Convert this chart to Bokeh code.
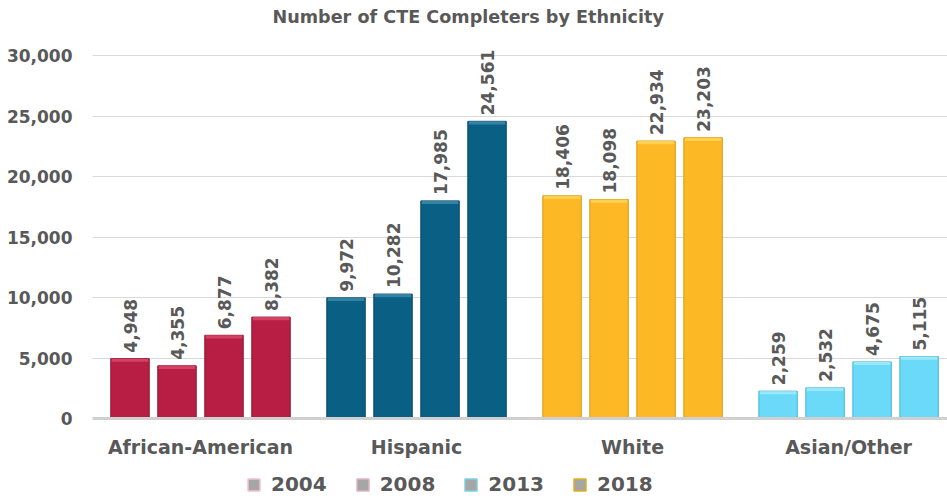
import math
from bokeh.plotting import figure
from bokeh.layouts import column
from bokeh.models import (ColumnDataSource, FixedTicker, NumeralTickFormatter,
                          Legend, LegendItem, Range1d)
from bokeh.core.properties import value
from bokeh.embed import file_html
from bokeh.resources import INLINE

title_text = "Number of CTE Completers by Ethnicity"
categories = ["African-American", "Hispanic", "White", "Asian/Other"]
years = ["2004", "2008", "2013", "2018"]
african_american = [4948, 4355, 6877, 8382]
hispanic = [9972, 10282, 17985, 24561]
white = [18406, 18098, 22934, 23203]
asian_other = [2259, 2532, 4675, 5115]
y_ticks = [0, 5000, 10000, 15000, 20000, 25000, 30000]

series = [african_american, hispanic, white, asian_other]
group_colors = ["#B81E44", "#0A5F85", "#FDB825", "#6BDAF8"]
highlight = ["#D8486A", "#3C88AC", "#FFD55C", "#A4EAFC"]
edge = ["#8E1732", "#084864", "#D99A10", "#45B6D6"]
legend_edges = ["#F2C4CF", "#E0B5C0", "#7CCFE0", "#E0B020"]

FONT = "DejaVu Sans"
GRAY = "#595959"

step = 0.2176
width = 0.178

xs, tops, fills, hl, lines, labels = [], [], [], [], [], []
for gi, vals in enumerate(series):
    for yi, v in enumerate(vals):
        xs.append(gi + 0.5 + (yi - 1.5) * step)
        tops.append(v)
        fills.append(group_colors[gi])
        hl.append(highlight[gi])
        lines.append(edge[gi])
        labels.append(f"{v:,}")

src = ColumnDataSource(dict(x=xs, top=tops, fill=fills, hl=hl, line=lines,
                            label=labels,
                            hl_bottom=[t - 260 for t in tops]))

# title strip
tt = figure(width=947, height=30, output_backend="svg", toolbar_location=None,
            x_range=Range1d(0, 1), y_range=Range1d(0, 1),
            min_border_left=0, min_border_right=0, min_border_top=26,
            min_border_bottom=0, title=title_text)
tt.axis.visible = False
tt.grid.visible = False
tt.outline_line_color = None
tt.title.text_font = FONT
tt.title.text_font_style = "bold"
tt.title.text_font_size = "17.6px"
tt.title.text_color = GRAY
tt.title.align = "left"
tt.title.offset = 180
tt.title.standoff = 0

p = figure(width=947, height=438, output_backend="svg", toolbar_location=None,
           x_range=Range1d(0, 3.958), y_range=Range1d(0, 31240),
           min_border_left=92, min_border_right=0, min_border_top=10,
           min_border_bottom=50)
p.outline_line_color = None
p.background_fill_color = "white"

p.vbar(x="x", top="top", width=width, bottom=0, source=src,
       fill_color="fill", line_color="line", line_width=1)
p.vbar(x="x", top="top", bottom="hl_bottom", width=width * 0.95, source=src,
       fill_color="hl", line_color=None, fill_alpha=0.85)

p.text(x="x", y="top", text="label", source=src, angle=math.pi / 2,
       text_align="left", text_baseline="middle", x_offset=0, y_offset=-6,
       text_font=value(FONT), text_font_style="bold", text_font_size="17px",
       text_color=GRAY)

# y axis
p.yaxis.ticker = FixedTicker(ticks=y_ticks)
p.yaxis.formatter = NumeralTickFormatter(format="0,0")
p.yaxis.axis_line_color = None
p.yaxis.major_tick_line_color = None
p.yaxis.minor_tick_line_color = None
p.yaxis.major_label_text_font = FONT
p.yaxis.major_label_text_font_style = "bold"
p.yaxis.major_label_text_font_size = "17px"
p.yaxis.major_label_text_color = GRAY
p.yaxis.major_label_standoff = 14

# x axis
p.xaxis.ticker = FixedTicker(ticks=[i + 0.5 for i in range(len(categories))])
p.xaxis.major_label_overrides = {i + 0.5: c for i, c in enumerate(categories)}
p.xaxis.axis_line_color = "#D0D0D0"
p.xaxis.axis_line_width = 3
p.xaxis.major_tick_line_color = None
p.xaxis.minor_tick_line_color = None
p.xaxis.major_label_text_font = FONT
p.xaxis.major_label_text_font_style = "bold"
p.xaxis.major_label_text_font_size = "19px"
p.xaxis.major_label_text_color = GRAY
p.xaxis.major_label_standoff = 11

p.xgrid.grid_line_color = None
p.ygrid.grid_line_color = "#D9D9D9"
p.ygrid.grid_line_width = 1

# legend in a thin strip below
lg = figure(width=947, height=30, output_backend="svg", toolbar_location=None,
            x_range=Range1d(0, 1), y_range=Range1d(0, 1),
            min_border_left=0, min_border_right=0, min_border_top=0,
            min_border_bottom=0)
lg.axis.visible = False
lg.grid.visible = False
lg.outline_line_color = None
items = []
for yi, yr in enumerate(years):
    r = lg.rect(x=[-10], y=[-10], width=1, height=1,
                fill_color="#A6A6A6", line_color=legend_edges[yi], line_width=1.5)
    items.append(LegendItem(label=yr, renderers=[r]))
legend = Legend(items=items, orientation="horizontal", location=(154, 2),
                label_text_font=FONT, label_text_font_style="bold",
                label_text_font_size="20px", label_text_color=GRAY,
                border_line_color=None, background_fill_alpha=0,
                glyph_width=15, glyph_height=15, spacing=28, padding=0,
                label_standoff=10, margin=0)
lg.add_layout(legend, "center")

layout = column(tt, p, lg, spacing=0)
open("out.html", "w").write(file_html(layout, INLINE))
